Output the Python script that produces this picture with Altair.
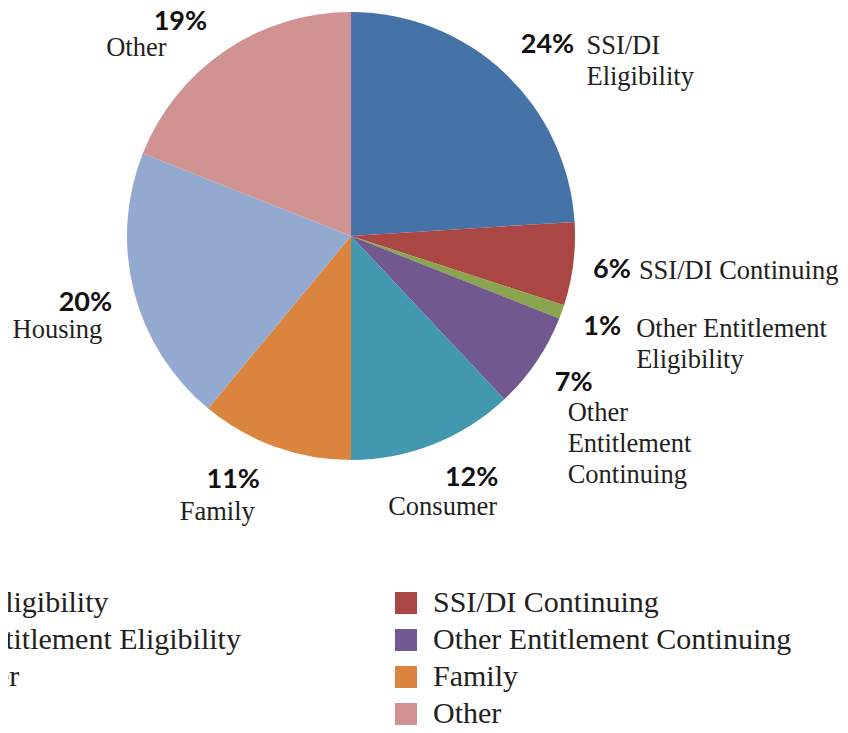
import json
import altair as alt
import pandas as pd

categories = ["SSI/DI Eligibility", "SSI/DI Continuing", "Other Entitlement Eligibility",
              "Other Entitlement Continuing", "Consumer", "Family", "Housing", "Other"]
percents = [24, 6, 1, 7, 12, 11, 20, 19]
label_text = ["SSI/DI\nEligibility", "SSI/DI Continuing", "Other Entitlement\nEligibility",
              "Other\nEntitlement\nContinuing", "Consumer", "Family", "Housing", "Other"]
colors = ["#4572A7", "#AA4643", "#89A54E", "#71588F", "#4198AF", "#DB843D", "#93A9CF", "#D19392"]

df = pd.DataFrame({"category": categories, "pct": percents, "label": label_text,
                   "order": list(range(len(categories)))})

CX, CY, R = 343, 228, 224
LR = 268

# label nudges relative to the slice mid-angle anchor (layout only):
# category -> (pct_dx, pct_dy, name_align, name_dx, name_dy)
placement = {
    "SSI/DI Eligibility": (13, 4, "left", 52, -8),
    "SSI/DI Continuing": (-5, 0, "left", 22, -12),
    "Other Entitlement Eligibility": (-1, 0, "left", 33, -11),
    "Other Entitlement Continuing": (1, -4, "left", -5, 13),
    "Consumer": (22, -7, "center", -7, 9),
    "Family": (-27, -8, "center", -43, 11),
    "Housing": (-6, 0, "center", -34, 14),
    "Other": (-20, 8, "center", -64, 21),
}

base = alt.Chart(df).encode(
    theta=alt.Theta("pct:Q", stack=True),
    order=alt.Order("order:Q"),
    x=alt.value(CX),
    y=alt.value(CY),
)

pie = base.mark_arc(radius=R).encode(
    color=alt.Color(
        "category:N",
        scale=alt.Scale(domain=categories, range=colors),
        sort=categories,
        legend=alt.Legend(
            title=None, orient="none", legendX=-154, legendY=580, columns=2,
            direction="horizontal",
            columnPadding=150, rowPadding=7, symbolType="square", symbolSize=484,
            symbolStrokeWidth=0, symbolOpacity=1, labelFont="Liberation Serif",
            labelFontSize=30, labelColor="#231f20", labelLimit=1000, labelOffset=12,
            padding=0,
        ),
    )
)

layers = [pie]
for cat, (pdx, pdy, nalign, ndx, ndy) in placement.items():
    sel = f"datum.category === {json.dumps(cat)}"
    layers.append(
        base.transform_calculate(txt=f"{sel} ? datum.pct + '%' : ''").mark_text(
            radius=LR, font="Lato", fontWeight="bold", fontSize=27, color="#111111",
            align="center", baseline="middle", dx=pdx, dy=pdy,
        ).encode(text="txt:N")
    )
    layers.append(
        base.transform_calculate(txt=f"{sel} ? datum.label : ''").mark_text(
            radius=LR, font="Liberation Serif", fontSize=26.5, color="#231f20",
            align=nalign, baseline="top", dx=ndx, dy=ndy, lineBreak="\n", lineHeight=31,
        ).encode(text="txt:N")
    )

chart = alt.layer(*layers).properties(
    width=832, height=717,
    autosize=alt.AutoSizeParams(type="none"),
    padding=0,
).configure_view(stroke=None)

chart.save("out.html", embed_options={"renderer": "svg", "actions": False})
